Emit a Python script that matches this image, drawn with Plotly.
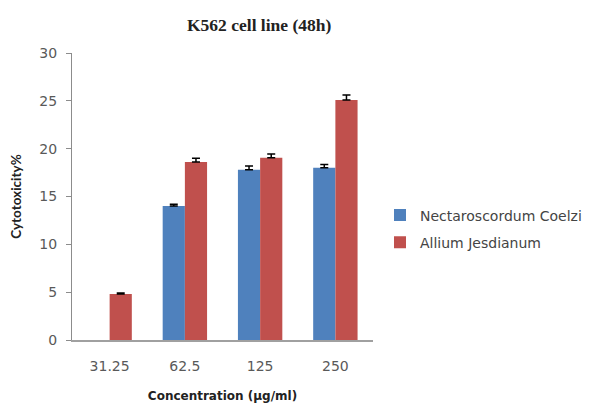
import plotly.graph_objects as go

categories = ["31.25", "62.5", "125", "250"]
nectaroscordum = [None, 14.0, 17.8, 18.0]
nectaroscordum_err = [0, 0.2, 0.4, 0.35]
allium = [4.8, 18.6, 19.05, 25.1]
allium_err = [0.1, 0.4, 0.4, 0.5]
y_ticks = [0, 5, 10, 15, 20, 25, 30]

fig = go.Figure()
fig.add_trace(go.Bar(
    x=categories, y=nectaroscordum, name="Nectaroscordum Coelzi", legendgroup="a",
    marker=dict(color="#4F81BD", line=dict(width=0)),
    error_y=dict(type="data", array=nectaroscordum_err, arrayminus=[0, 0, 0, 0], symmetric=False,
                 color="#000000", thickness=1.5, width=4),
))
fig.add_trace(go.Bar(
    x=categories, y=allium, name="Allium Jesdianum", legendgroup="b",
    marker=dict(color="#C0504D", line=dict(width=0)),
    error_y=dict(type="data", array=allium_err, arrayminus=[0, 0, 0, 0], symmetric=False,
                 color="#000000", thickness=1.5, width=4),
))

tick_font = dict(family="DejaVu Sans, sans-serif", size=14, color="#595959")

# the page body has an 8px margin, so the figure is shifted by -8px to compensate
fig.update_layout(
    width=587, height=395,
    margin=dict(l=64, r=222, t=45, b=63, autoexpand=False),
    paper_bgcolor="white", plot_bgcolor="white",
    barmode="group", bargap=0.41, bargroupgap=0,
    showlegend=True,
    legend=dict(x=(380 - 72) / (373 - 72), y=(340 - 229) / (340 - 53),
                xanchor="left", yanchor="middle",
                font=dict(family="DejaVu Sans, sans-serif", size=14, color="#444444"),
                tracegroupgap=6, itemwidth=30),
    annotations=[dict(
        text="<b>K562 cell line (48h)</b>", xref="x domain", yref="y domain",
        x=(259 - 72) / (373 - 72), y=(340 - 25) / (340 - 53), xanchor="center", yanchor="middle",
        showarrow=False, font=dict(family="Liberation Serif, Times New Roman, serif", size=17.5, color="#222222"))],
)

fig.update_xaxes(
    automargin=False,
    showline=True, linecolor="#A0A0A0", linewidth=2, ticks="", showgrid=False,
    tickfont=tick_font, ticklabelstandoff=12,
    title=dict(text="<b>Concentration (µg/ml)</b>", font=dict(family="DejaVu Sans, sans-serif", size=12, color="#222222"), standoff=22),
)
fig.update_yaxes(
    automargin=False,
    range=[0, 30], tickvals=y_ticks, showline=True, linecolor="#8C8C8C", linewidth=1,
    ticks="outside", ticklen=5, tickcolor="#8C8C8C", showgrid=False, zeroline=False,
    tickfont=tick_font, ticklabelstandoff=6,
    title=dict(text="<b>Cytotoxicity%</b>", font=dict(family="Lato, Open Sans, sans-serif", size=13.5, color="#222222"), standoff=16),
)

fig.write_html("out.html", config={"displayModeBar": False})
